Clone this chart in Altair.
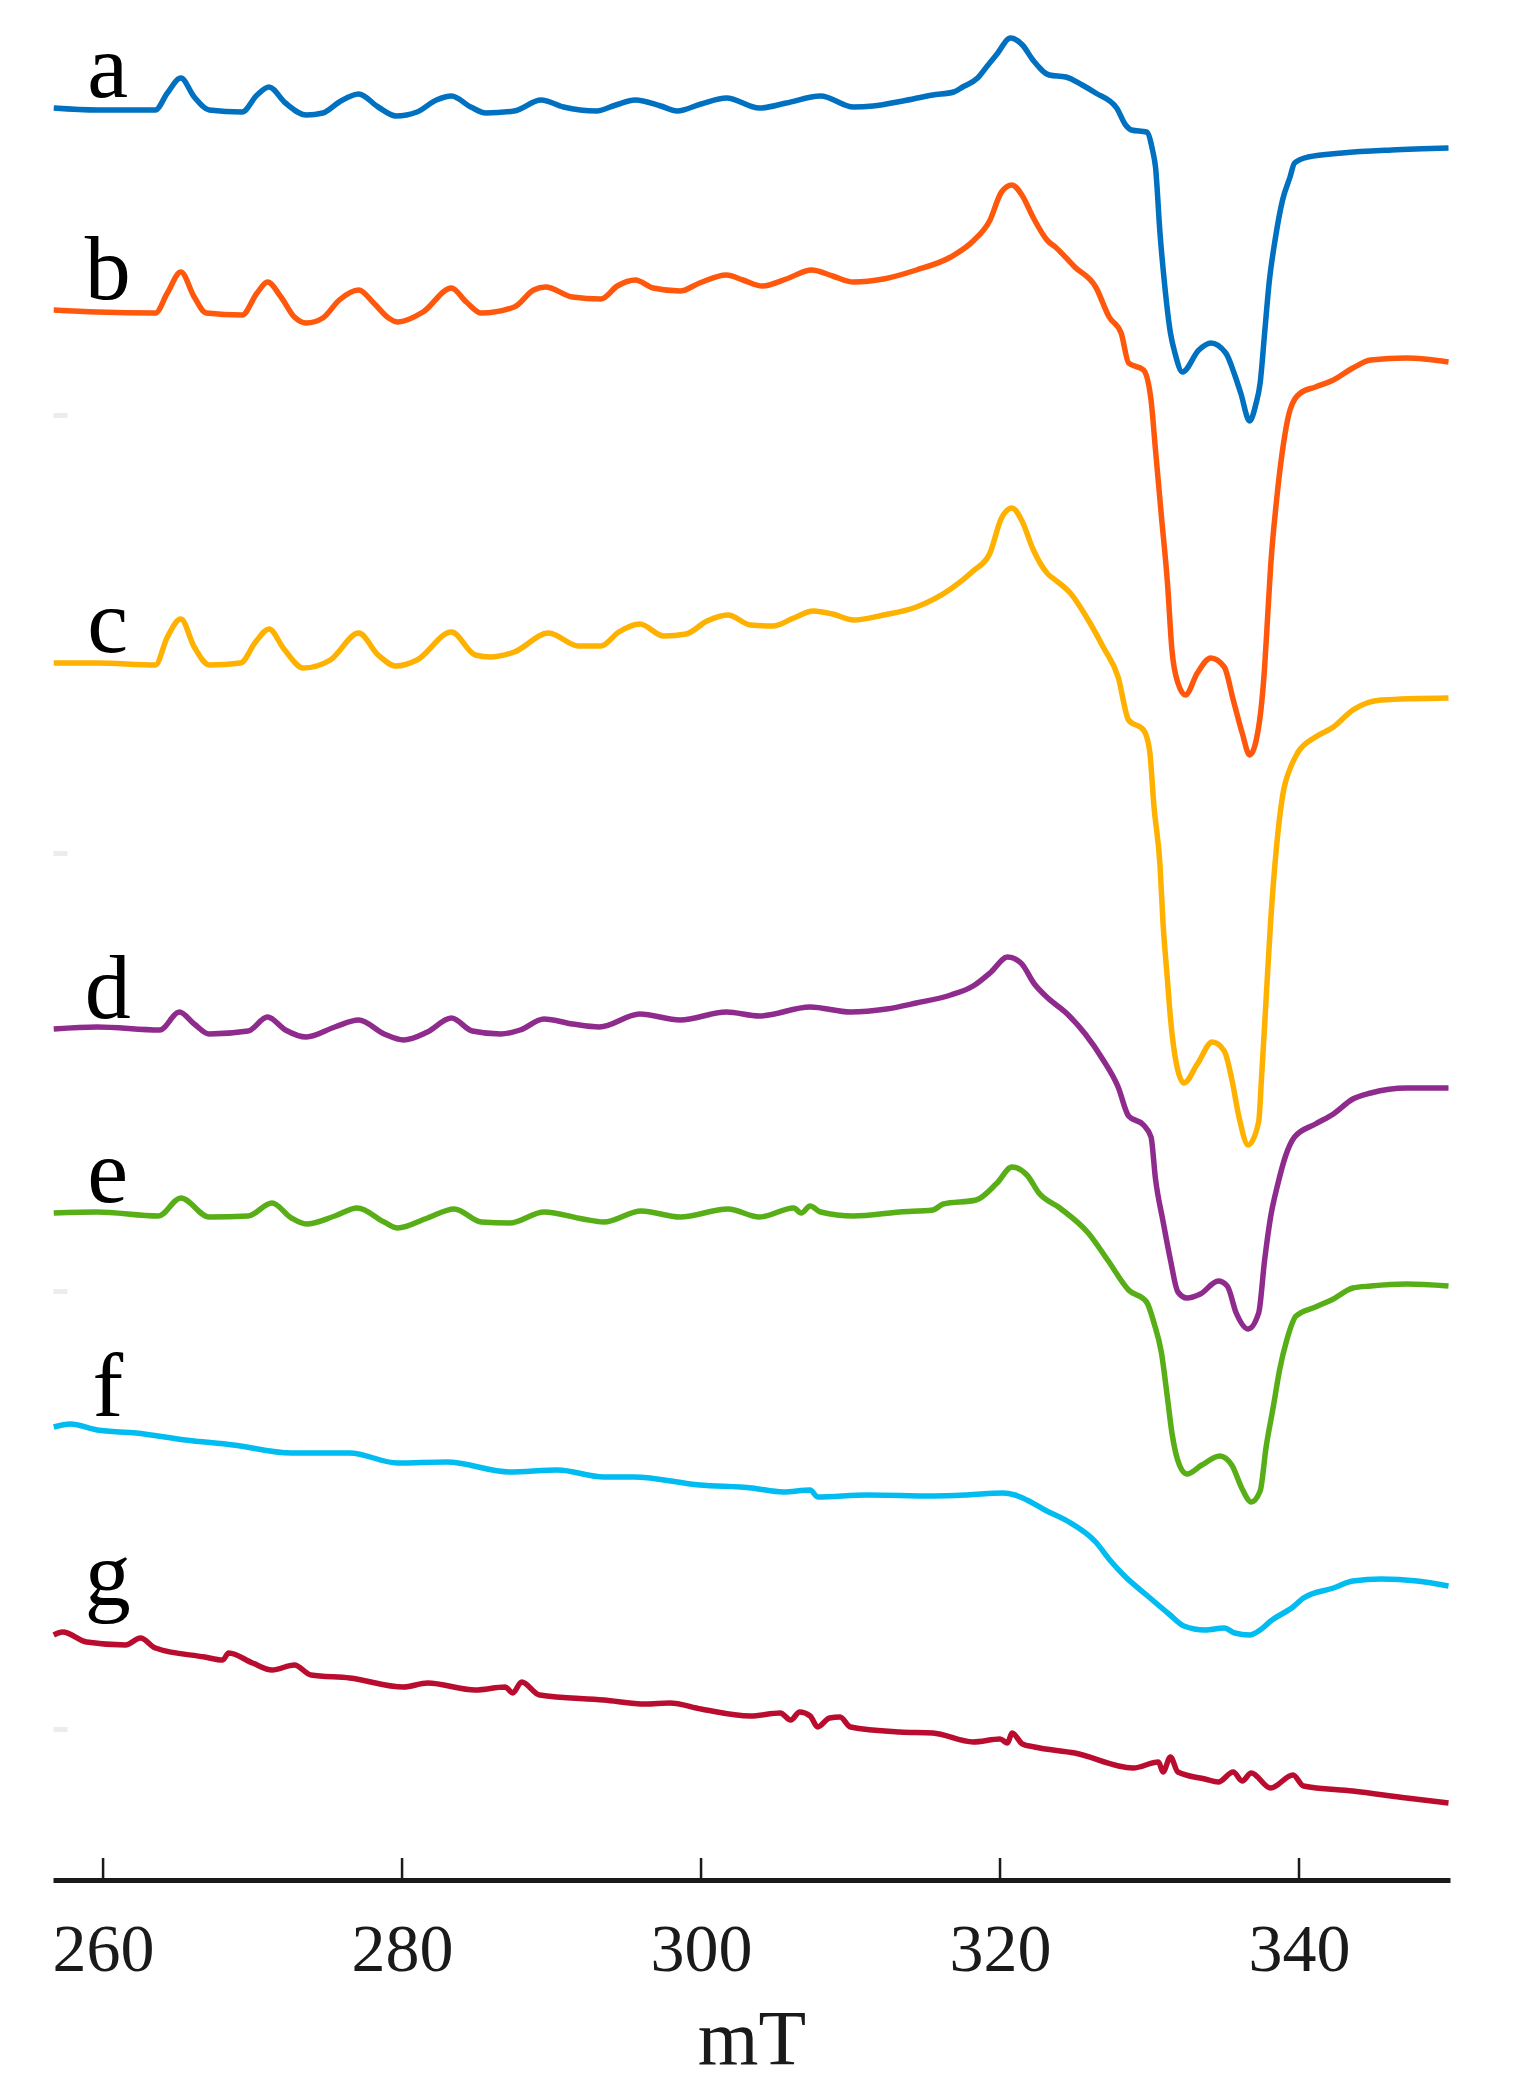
import altair as alt
import pandas as pd

# ---- spectra (field in mT, signal in arbitrary offset units) ----
FIELD_A = [256.7, 259.6, 263.5, 264.3, 265.2, 266.1, 267.1, 269.3, 270.3, 271.1, 272.2, 273.6, 274.7,
           275.8, 277.1, 278.4, 279.6, 281.0, 282.3, 283.3, 284.6, 285.6, 287.5, 289.3, 290.8, 293.0,
           294.3, 295.6, 297.3, 298.4, 300.0, 301.7, 303.9, 305.7, 308.0, 310.2, 311.5, 313.5, 315.5,
           316.9, 317.5, 318.5, 319.2, 319.8, 320.7, 321.5, 322.2, 323.3, 324.4, 325.5, 326.4, 327.8,
           328.4, 328.8, 329.8, 330.2, 330.4, 330.7, 331.0, 331.4, 331.7, 332.2, 333.3, 334.1, 335.1,
           335.7, 336.1, 336.7, 337.1, 337.4, 337.7, 338.0, 338.4, 338.9, 339.4, 339.7, 340.6, 342.9,
           346.2, 350.0]
SIGNAL_A = [1772, 1770, 1770, 1787, 1802, 1783, 1770, 1768, 1785, 1793, 1777, 1765, 1767,
            1778, 1786, 1773, 1764, 1768, 1780, 1784, 1773, 1767, 1769, 1780, 1773, 1769,
            1775, 1780, 1774, 1769, 1776, 1782, 1772, 1777, 1784, 1773, 1774, 1779, 1785,
            1788, 1793, 1802, 1815, 1826, 1842, 1835, 1820, 1805, 1803, 1795, 1787, 1772,
            1755, 1750, 1748, 1730, 1713, 1647, 1597, 1547, 1527, 1508, 1530, 1537, 1527,
            1505, 1487, 1459, 1475, 1497, 1547, 1597, 1640, 1680, 1703, 1717, 1723, 1727,
            1730, 1732]

FIELD_B = [256.7, 259.6, 263.5, 264.3, 265.2, 266.1, 266.9, 269.3, 270.3, 271.0, 271.9, 272.8, 273.6,
           274.7, 275.8, 277.1, 278.1, 279.1, 279.7, 281.4, 283.3, 284.3, 285.3, 287.5, 288.8, 289.6,
           291.4, 293.3, 294.4, 295.6, 296.8, 298.6, 299.9, 301.7, 302.8, 304.1, 305.7, 307.4, 308.8,
           310.2, 312.2, 314.4, 316.7, 318.2, 319.3, 320.1, 320.8, 321.5, 322.2, 323.2, 323.7, 325.0,
           326.4, 327.3, 328.1, 328.6, 329.6, 330.1, 330.4, 330.8, 331.2, 331.5, 331.9, 332.4, 333.2,
           334.1, 335.0, 335.6, 336.2, 336.7, 337.3, 337.7, 337.9, 338.1, 338.5, 338.9, 339.4, 340.1,
           341.1, 342.3, 343.6, 344.8, 347.2, 350.0]
SIGNAL_B = [1570, 1568, 1567, 1587, 1608, 1583, 1567, 1565, 1587, 1598, 1583, 1563, 1557,
            1562, 1580, 1590, 1577, 1562, 1558, 1568, 1592, 1578, 1567, 1573, 1590, 1593,
            1583, 1581, 1594, 1600, 1592, 1589, 1597, 1605, 1600, 1594, 1601, 1610, 1604,
            1598, 1601, 1610, 1623, 1639, 1659, 1688, 1695, 1684, 1663, 1639, 1633, 1613,
            1593, 1563, 1547, 1517, 1510, 1480, 1430, 1363, 1297, 1230, 1197, 1185, 1207,
            1222, 1213, 1180, 1147, 1125, 1153, 1213, 1263, 1313, 1380, 1430, 1470, 1487,
            1493, 1500, 1512, 1520, 1522, 1518]

FIELD_C = [256.7, 259.6, 263.5, 264.3, 265.2, 266.1, 267.1, 269.2, 270.2, 271.1, 272.1, 273.4, 275.2,
           277.1, 278.4, 279.6, 281.0, 283.3, 284.9, 285.9, 287.5, 289.8, 291.8, 293.3, 294.5, 295.9,
           297.5, 299.0, 300.4, 301.8, 303.3, 304.8, 306.2, 307.5, 308.8, 310.2, 312.2, 314.4, 316.7,
           318.2, 319.3, 320.1, 320.8, 321.5, 322.2, 323.2, 323.7, 324.7, 325.9, 326.9, 327.9, 328.6,
           329.6, 330.0, 330.3, 330.7, 330.9, 331.2, 331.4, 331.8, 332.3, 333.2, 334.2, 335.0, 335.5,
           336.0, 336.6, 337.3, 337.5, 337.8, 338.1, 338.5, 338.9, 339.5, 339.9, 341.1, 342.3, 343.6,
           345.5, 350.0]
SIGNAL_C = [1217, 1217, 1215, 1243, 1261, 1233, 1215, 1217, 1238, 1251, 1231, 1212, 1220,
            1247, 1225, 1214, 1220, 1248, 1225, 1223, 1228, 1247, 1234, 1234, 1248, 1256,
            1244, 1246, 1259, 1265, 1255, 1254, 1262, 1269, 1266, 1260, 1265, 1273, 1291,
            1309, 1326, 1362, 1372, 1358, 1331, 1306, 1300, 1287, 1260, 1233, 1203, 1160,
            1150, 1130, 1073, 1015, 958, 900, 862, 816, 797, 816, 838, 829, 801,
            762, 735, 758, 804, 881, 958, 1034, 1084, 1115, 1127, 1143, 1153, 1170,
            1180, 1182]

FIELD_D = [256.7, 259.6, 263.8, 265.1, 266.1, 267.1, 269.7, 271.0, 272.2, 273.6, 275.5, 277.1, 278.8,
           280.1, 281.7, 283.3, 284.7, 286.6, 287.9, 289.5, 291.4, 293.2, 295.9, 298.6, 301.7, 303.9,
           307.3, 310.0, 312.4, 314.4, 316.7, 318.2, 319.4, 320.5, 321.4, 322.3, 323.2, 324.5, 325.7,
           326.9, 327.9, 328.6, 329.6, 330.1, 330.4, 330.9, 331.4, 331.9, 332.5, 333.4, 334.6, 335.2,
           335.8, 336.6, 337.3, 337.7, 338.1, 338.6, 339.1, 339.7, 341.1, 342.3, 343.6, 344.8, 347.2,
           350.0]
SIGNAL_D = [851, 853, 850, 868, 856, 846, 849, 863, 850, 843, 853, 860, 846,
            840, 848, 862, 849, 846, 850, 861, 856, 853, 866, 860, 868, 864,
            873, 868, 871, 877, 885, 894, 908, 923, 917, 896, 882, 866, 846,
            820, 793, 764, 755, 743, 701, 659, 620, 588, 582, 586, 599, 594,
            567, 551, 567, 620, 663, 697, 724, 743, 756, 766, 781, 787, 792,
            792]

FIELD_E = [256.7, 259.6, 263.7, 265.2, 267.1, 269.7, 271.3, 272.6, 273.6, 275.5, 277.0, 278.8, 279.7,
           281.7, 283.5, 285.3, 287.2, 289.5, 292.1, 293.5, 296.0, 298.6, 301.8, 303.9, 306.2, 306.7,
           307.3, 308.0, 310.2, 313.3, 315.5, 316.2, 318.4, 319.8, 320.8, 321.8, 322.6, 324.0, 325.9,
           327.2, 328.6, 329.8, 330.3, 330.8, 331.2, 331.5, 332.0, 332.5, 333.5, 334.7, 335.5, 336.2,
           336.8, 337.4, 337.8, 338.3, 338.7, 339.2, 339.8, 341.1, 342.3, 343.6, 344.8, 347.2, 350.0]
SIGNAL_E = [667, 668, 664, 682, 663, 664, 677, 662, 656, 664, 672, 658, 652,
            662, 671, 658, 657, 668, 661, 658, 669, 663, 671, 663, 672, 667,
            674, 668, 664, 668, 670, 676, 680, 697, 713, 705, 687, 672, 647,
            620, 590, 578, 557, 527, 482, 447, 415, 406, 415, 424, 415, 391,
            378, 389, 433, 475, 510, 541, 564, 573, 581, 592, 594, 596, 594]

FIELD_F = [256.7, 257.8, 259.6, 262.2, 265.5, 268.7, 272.6, 276.5, 279.7, 283.0, 287.2, 290.4, 293.5,
           295.5, 299.9, 303.4, 305.5, 307.3, 307.8, 311.1, 315.5, 317.8, 320.2, 321.0, 321.8, 323.0,
           324.5, 326.4, 327.4, 328.4, 329.8, 331.3, 332.3, 333.7, 335.0, 335.7, 336.7, 337.4, 338.1,
           339.6, 340.3, 342.3, 343.6, 345.5, 347.9, 350.0]
SIGNAL_F = [453, 456, 450, 447, 440, 435, 427, 427, 417, 418, 408, 410, 403,
            403, 395, 392, 388, 390, 383, 385, 384, 385, 387, 385, 380, 370,
            359, 338, 319, 303, 285, 266, 254, 250, 252, 247, 245, 250, 259,
            273, 282, 292, 299, 301, 299, 294]

FIELD_G = [256.7, 257.3, 258.9, 261.5, 262.5, 263.5, 266.8, 268.0, 268.4, 270.0, 271.3, 272.8, 273.9,
           276.5, 280.1, 281.7, 284.9, 286.9, 287.4, 288.0, 289.2, 293.5, 296.3, 297.9, 300.0, 303.3,
           305.3, 306.0, 306.6, 307.3, 307.8, 308.6, 309.3, 310.0, 313.3, 315.5, 318.2, 320.0, 320.5,
           320.8, 321.5, 322.3, 325.0, 328.9, 330.6, 330.9, 331.4, 331.9, 333.7, 334.6, 335.6, 336.2,
           336.8, 338.1, 339.6, 340.3, 343.6, 347.2, 350.0]
SIGNAL_G = [245, 248, 238, 235, 242, 232, 223, 220, 227, 217, 210, 215, 205,
            202, 193, 197, 190, 193, 187, 198, 185, 180, 176, 177, 171, 164,
            167, 160, 168, 164, 153, 162, 163, 153, 148, 147, 138, 141, 137,
            147, 136, 133, 127, 112, 118, 108, 123, 108, 101, 98, 108, 99,
            107, 92, 105, 94, 89, 82, 77]

SAMPLES = ["a", "b", "c", "d", "e", "f", "g"]
COLORS = ["#0070C0", "#FF580C", "#FFB100", "#8F2B8D", "#58AE16", "#00BCF0", "#BA0C2F"]
X_TICKS = [260, 280, 300, 320, 340]
Y_TICKS = [151, 589, 1027, 1465]

FIELDS = [FIELD_A, FIELD_B, FIELD_C, FIELD_D, FIELD_E, FIELD_F, FIELD_G]
SIGNALS = [SIGNAL_A, SIGNAL_B, SIGNAL_C, SIGNAL_D, SIGNAL_E, SIGNAL_F, SIGNAL_G]

rows = []
for name, xs, ys in zip(SAMPLES, FIELDS, SIGNALS):
    for i, (x, y) in enumerate(zip(xs, ys)):
        rows.append({"sample": name, "field": x, "signal": y, "idx": i})
df = pd.DataFrame(rows)
labels = df[df["idx"] == 0].reset_index(drop=True)
ticks_df = pd.DataFrame({"field": X_TICKS})

W, H = 1397, 1860
FONT = "Liberation Serif"
xscale = alt.Scale(domain=[256.65, 350.1], nice=False, zero=False)
yscale = alt.Scale(domain=[0, 1860], nice=False, zero=False)

X_AXIS = alt.Axis(values=X_TICKS, title="mT", ticks=False, grid=False,
                  domainWidth=5, domainColor="#1a1a1a",
                  labelFont=FONT, labelFontSize=68, labelColor="#1a1a1a",
                  labelBaseline="alphabetic", labelPadding=90, labelFlush=False,
                  titleFont=FONT, titleFontSize=78, titleFontWeight="normal",
                  titleColor="#1a1a1a", titleBaseline="alphabetic", titleY=183)
Y_AXIS = alt.Axis(values=Y_TICKS, labels=False, domain=False, grid=False,
                  ticks=True, tickColor="#ececec", tickWidth=5, tickSize=14,
                  offset=-14, title=None)

lines = alt.Chart(df).mark_line(strokeWidth=5.5, interpolate="monotone").encode(
    x=alt.X("field:Q", scale=xscale, axis=X_AXIS, title="mT"),
    y=alt.Y("signal:Q", scale=yscale, axis=Y_AXIS),
    color=alt.Color("sample:N", scale=alt.Scale(domain=SAMPLES, range=COLORS), legend=None),
    detail="sample:N",
)

tick_rules = alt.Chart(ticks_df).mark_rule(color="#1a1a1a", strokeWidth=2.5).encode(
    x=alt.X("field:Q", scale=xscale, axis=X_AXIS, title="mT"),
    y=alt.value(H),
    y2=alt.value(H - 22),
)

label_style = dict(font=FONT, fontSize=92, align="center", baseline="alphabetic",
                   color="#000000", dx=54)
text_main = alt.Chart(labels).transform_filter(alt.datum.sample != "g").mark_text(
    dy=-11, **label_style).encode(
    x=alt.X("field:Q", scale=xscale, axis=X_AXIS, title="mT"),
    y=alt.Y("signal:Q", scale=yscale, axis=Y_AXIS),
    text="sample:N",
)
text_g = alt.Chart(labels).transform_filter(alt.datum.sample == "g").mark_text(
    dy=-30, **label_style).encode(
    x=alt.X("field:Q", scale=xscale, axis=X_AXIS, title="mT"),
    y=alt.Y("signal:Q", scale=yscale, axis=Y_AXIS),
    text="sample:N",
)

chart = alt.layer(lines, tick_rules, text_main, text_g).properties(
    width=W, height=H,
    autosize=alt.AutoSizeParams(type="none"),
    padding={"left": 45, "top": 12, "right": 60, "bottom": 200},
).configure_view(strokeWidth=0)

chart.save("out.html", embed_options={"renderer": "svg", "actions": False})
